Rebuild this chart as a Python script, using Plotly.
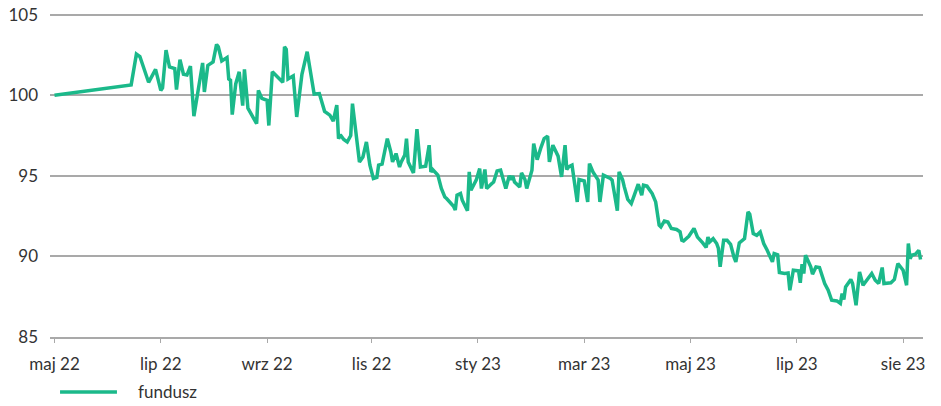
import plotly.graph_objects as go

dates = [
    "2022-05-01",
    "2022-06-11", "2022-06-14", "2022-06-17", "2022-06-19", "2022-06-24", "2022-06-28",
    "2022-07-01", "2022-07-02", "2022-07-04", "2022-07-06", "2022-07-09", "2022-07-10",
    "2022-07-12", "2022-07-14", "2022-07-16", "2022-07-18", "2022-07-20", "2022-07-25",
    "2022-07-26", "2022-07-28", "2022-07-31",
    "2022-08-02", "2022-08-03", "2022-08-05", "2022-08-08", "2022-08-09", "2022-08-10",
    "2022-08-11", "2022-08-13", "2022-08-15", "2022-08-17", "2022-08-18", "2022-08-20",
    "2022-08-25", "2022-08-26", "2022-08-28", "2022-08-31",
    "2022-09-01", "2022-09-03", "2022-09-06", "2022-09-09", "2022-09-10", "2022-09-11",
    "2022-09-12", "2022-09-15", "2022-09-17", "2022-09-20", "2022-09-23", "2022-09-27",
    "2022-09-30",
    "2022-10-03", "2022-10-06", "2022-10-08", "2022-10-10", "2022-10-11", "2022-10-12",
    "2022-10-14", "2022-10-16", "2022-10-18", "2022-10-19", "2022-10-21", "2022-10-23",
    "2022-10-25", "2022-10-27", "2022-10-29", "2022-10-31",
    "2022-11-02", "2022-11-03", "2022-11-05", "2022-11-08", "2022-11-10", "2022-11-11",
    "2022-11-13", "2022-11-15", "2022-11-16", "2022-11-18", "2022-11-19", "2022-11-20",
    "2022-11-23", "2022-11-25", "2022-11-27", "2022-11-30",
    "2022-12-02", "2022-12-03", "2022-12-04", "2022-12-07", "2022-12-09", "2022-12-11",
    "2022-12-12", "2022-12-16", "2022-12-17", "2022-12-18", "2022-12-20", "2022-12-21",
    "2022-12-24", "2022-12-25", "2022-12-26", "2022-12-29", "2022-12-31",
    "2023-01-01", "2023-01-03", "2023-01-04", "2023-01-07", "2023-01-08", "2023-01-10",
    "2023-01-12", "2023-01-15", "2023-01-17", "2023-01-18", "2023-01-19", "2023-01-20",
    "2023-01-23", "2023-01-24", "2023-01-26", "2023-01-27", "2023-01-30", "2023-01-31",
    "2023-02-02", "2023-02-04", "2023-02-06", "2023-02-08", "2023-02-09", "2023-02-11",
    "2023-02-14", "2023-02-16", "2023-02-18", "2023-02-19", "2023-02-20", "2023-02-22",
    "2023-02-24", "2023-02-25", "2023-02-26",
    "2023-03-01", "2023-03-03", "2023-03-04", "2023-03-06", "2023-03-09", "2023-03-10",
    "2023-03-12", "2023-03-16", "2023-03-17", "2023-03-18", "2023-03-20", "2023-03-21",
    "2023-03-23", "2023-03-24", "2023-03-26", "2023-03-28", "2023-03-30",
    "2023-04-01", "2023-04-03", "2023-04-04", "2023-04-06", "2023-04-09", "2023-04-11",
    "2023-04-13", "2023-04-14", "2023-04-16", "2023-04-18", "2023-04-20", "2023-04-23",
    "2023-04-25", "2023-04-26", "2023-04-27", "2023-04-30",
    "2023-05-03", "2023-05-05", "2023-05-07", "2023-05-08", "2023-05-10", "2023-05-11",
    "2023-05-12", "2023-05-14", "2023-05-16", "2023-05-17", "2023-05-18", "2023-05-20",
    "2023-05-22", "2023-05-24", "2023-05-26", "2023-05-27", "2023-05-29", "2023-05-31",
    "2023-06-01", "2023-06-03", "2023-06-04", "2023-06-06", "2023-06-08", "2023-06-10",
    "2023-06-12", "2023-06-14", "2023-06-16", "2023-06-17", "2023-06-18", "2023-06-20",
    "2023-06-21", "2023-06-24", "2023-06-26", "2023-06-27", "2023-06-29",
    "2023-07-02", "2023-07-03", "2023-07-04", "2023-07-05", "2023-07-06", "2023-07-09",
    "2023-07-10", "2023-07-12", "2023-07-14", "2023-07-17", "2023-07-19", "2023-07-21",
    "2023-07-24", "2023-07-26", "2023-07-27", "2023-07-28", "2023-07-29",
    "2023-08-01", "2023-08-02", "2023-08-04", "2023-08-06", "2023-08-08", "2023-08-13",
    "2023-08-15", "2023-08-17", "2023-08-19", "2023-08-20", "2023-08-24", "2023-08-26",
    "2023-08-28", "2023-08-31",
    "2023-09-02", "2023-09-03", "2023-09-04", "2023-09-05", "2023-09-07", "2023-09-09",
    "2023-09-10",
]

fundusz = [
    100.0,
    100.56, 100.64, 102.55, 102.4, 100.8, 101.6,
    100.3, 100.45, 102.8, 101.75, 101.65, 100.35,
    102.2, 101.3, 101.25, 101.8, 98.7, 102.0,
    100.2, 101.85, 102.07,
    103.15, 103.0, 102.13, 102.34, 101.0, 100.93,
    98.8, 100.7, 101.45, 99.35, 101.6, 99.2,
    98.24, 100.3, 99.8, 99.68,
    98.12, 101.45, 101.1, 100.8, 103.0, 102.85,
    101.0, 101.2, 98.65, 101.3, 102.7, 100.07,
    100.1,
    99.0, 98.76, 98.4, 99.38, 97.3, 97.55,
    97.25, 97.1, 97.5, 99.48, 97.83, 95.86,
    96.17, 97.1, 95.66, 94.83,
    94.9, 95.66, 95.72, 97.31, 96.48, 95.86,
    96.38, 95.55, 95.86, 96.28, 97.31, 95.86,
    95.18, 97.9, 95.55, 95.6,
    96.9, 95.24, 95.39, 95.04, 94.21, 93.69,
    93.59, 93.11, 92.87, 93.8, 93.9, 93.49,
    92.83, 95.24, 94.1, 94.73, 95.45,
    94.21, 95.39, 94.21, 94.52, 94.62, 95.3,
    95.35, 94.21, 95.0, 94.76, 94.98, 94.62,
    94.31, 95.18, 94.77, 94.21, 95.35, 97.0,
    96.0, 96.7, 97.31, 97.46, 95.86, 96.9,
    96.22, 94.93, 96.9, 95.39, 95.55, 95.66,
    94.31, 93.38, 94.77,
    94.68, 93.38, 95.76, 95.24, 94.73, 93.38,
    95.04, 94.83, 94.73, 94.1, 92.83, 95.24,
    94.77, 94.31, 93.53, 93.28, 93.86,
    94.48, 93.8, 94.42, 94.36, 93.9, 93.38,
    91.94, 91.83, 92.2, 92.14, 91.73, 91.67,
    91.52, 91.0, 90.96, 91.25,
    91.73, 91.2, 91.0, 90.84, 90.55, 91.2,
    90.9, 91.1, 90.8, 90.49, 89.35, 91.0,
    91.0, 90.75, 89.93, 89.66, 90.84, 91.05,
    91.11, 92.76, 92.62, 91.42, 91.31, 91.52,
    90.8, 90.38, 89.93, 89.66, 90.18, 90.1,
    89.0, 88.94, 88.97, 87.9, 89.14,
    89.1, 88.36, 89.52, 88.94, 90.07, 89.35,
    88.9, 89.35, 89.31, 88.32, 87.9, 87.28,
    87.24, 87.08, 87.7, 87.33, 88.11,
    88.57, 88.32, 86.97, 89.04, 88.21, 88.94,
    88.52, 88.32, 89.31, 88.32, 88.36, 88.57,
    89.56, 89.14,
    88.21, 90.8, 89.86, 90.07, 90.13, 90.38,
    89.81,
]

tick_dates = ["2022-05-01", "2022-07-01", "2022-08-31", "2022-10-30", "2022-12-30",
              "2023-03-01", "2023-05-01", "2023-07-01", "2023-08-31"]
tick_labels = ["maj 22", "lip 22", "wrz 22", "lis 22", "sty 23",
               "mar 23", "maj 23", "lip 23", "sie 23"]
y_ticks = [85, 90, 95, 100, 105]

LINE_COLOR = "#1bb98a"
GRID = "#a9a9a9"
TEXT = "#333333"
FONT = "Lato"

fig = go.Figure()
fig.add_trace(go.Scatter(
    x=dates, y=fundusz, mode="lines", name="fundusz",
    line=dict(color=LINE_COLOR, width=3.5),
    showlegend=False,
))

fig.update_layout(
    width=941, height=406,
    margin=dict(l=50, r=18, t=13, b=69),
    paper_bgcolor="white", plot_bgcolor="white",
    font=dict(family=FONT, size=17, color=TEXT),
    xaxis=dict(
        type="date", automargin=False,
        range=["2022-04-28 10:00", "2023-09-11 10:00"],
        tickvals=tick_dates, ticktext=tick_labels,
        showgrid=False, showline=True, linecolor=GRID, linewidth=1.5,
        ticks="outside", ticklen=4, tickcolor=GRID, tickwidth=1,
        ticklabelstandoff=7, ticklabeloverflow="allow",
        zeroline=False,
    ),
    yaxis=dict(
        automargin=False,
        range=[85, 105.1], tickvals=y_ticks,
        showgrid=True, gridcolor=GRID, gridwidth=1.5,
        showline=False, zeroline=False, ticks="",
        ticklabelstandoff=11, ticklabeloverflow="allow",
    ),
)

# legend drawn below the plot
fig.add_shape(type="line", xref="paper", yref="paper",
              x0=0.0115, x1=0.0767, y0=-0.1698, y1=-0.1698,
              line=dict(color=LINE_COLOR, width=3.5))
fig.add_annotation(xref="paper", yref="paper", x=0.0985, y=-0.1667,
                   text="fundusz", showarrow=False, xanchor="left", yanchor="middle",
                   font=dict(family=FONT, size=17, color=TEXT))

fig.write_html("out.html", config={"displayModeBar": False},
               post_script="document.body.style.margin='0';")
